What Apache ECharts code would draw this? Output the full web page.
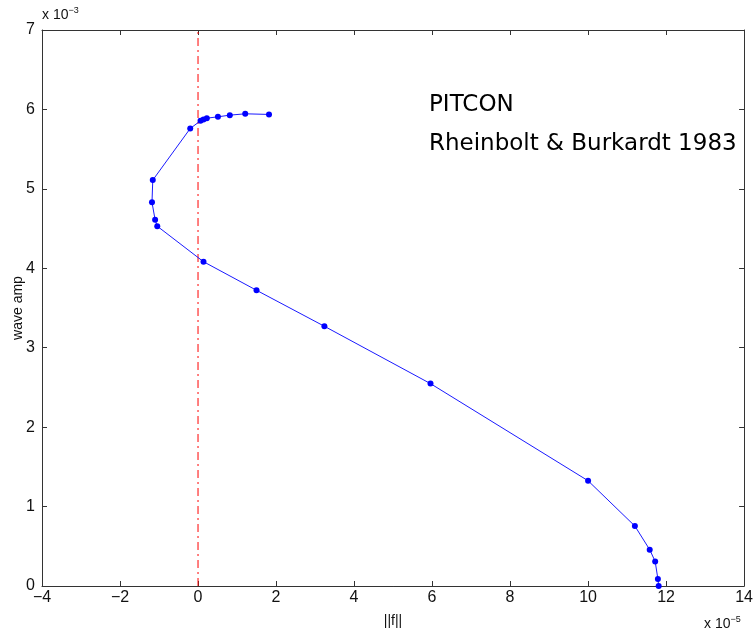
<!DOCTYPE html>
<html>
<head>
<meta charset="utf-8">
<script src="https://cdn.jsdelivr.net/npm/echarts@6/dist/echarts.min.js"></script>
<style>html,body{margin:0;padding:0;background:#fff}#c{width:756px;height:638px}</style>
</head>
<body>
<div id="c"></div>
<script>
// ||f|| values (x 1e-5) and wave amp values (x 1e-3)
const normF = [11.81, 11.79, 11.72, 11.58, 11.2, 10.0, 5.96, 3.24, 1.50, 0.14, -1.045, -1.10, -1.18, -1.16, -0.2, 0.064, 0.14, 0.225, 0.51, 0.815, 1.21, 1.82];
const waveAmp = [0.0, 0.088, 0.31, 0.457, 0.755, 1.325, 2.548, 3.27, 3.723, 4.083, 4.53, 4.61, 4.83, 5.11, 5.76, 5.857, 5.874, 5.89, 5.907, 5.928, 5.945, 5.937];
const zeroLineX = [0, 0];
const zeroLineY = [0, 7];
const xTicks = {min: -4, max: 14, interval: 2};
const yTicks = {min: 0, max: 7, interval: 1};
const annotations = ['PITCON', 'Rheinbolt & Burkardt 1983'];

const chart = echarts.init(document.getElementById('c'), null, {renderer: 'canvas'});
const axisCol = '#333';
const labelFont = {fontFamily: 'Liberation Sans', fontSize: 16, color: '#111'};
function xa(pos, labels) {
  return {type: 'value', position: pos, min: xTicks.min, max: xTicks.max, interval: xTicks.interval,
    axisLine: {show: true, onZero: false, lineStyle: {color: axisCol, width: 1}},
    axisTick: {show: true, inside: true, length: 5, lineStyle: {color: axisCol}},
    axisLabel: Object.assign({show: labels, margin: 4, formatter: v => String(v).replace('-', '\u2212')}, labelFont),
    splitLine: {show: false}};
}
function ya(pos, labels) {
  return {type: 'value', position: pos, min: yTicks.min, max: yTicks.max, interval: yTicks.interval,
    axisLine: {show: true, onZero: false, lineStyle: {color: axisCol, width: 1}},
    axisTick: {show: true, inside: true, length: 5, lineStyle: {color: axisCol}},
    axisLabel: Object.assign({show: labels, margin: 7}, labelFont),
    splitLine: {show: false}};
}
const option = {
  animation: false,
  backgroundColor: '#fff',
  grid: {left: 42, right: 10, top: 30, bottom: 52, containLabel: false},
  xAxis: [xa('bottom', true), xa('top', false)],
  yAxis: [ya('left', true), ya('right', false)],
  series: [
    {type: 'line', data: zeroLineX.map((v, i) => [v, zeroLineY[i]]), symbol: 'none',
      lineStyle: {color: '#ff0000', width: 1, type: [8, 4, 2, 4]}, z: 2},
    {type: 'line', data: normF.map((v, i) => [v, waveAmp[i]]), symbol: 'circle', symbolSize: 6,
      showSymbol: true, clip: false,
      itemStyle: {color: '#0000ff'}, lineStyle: {color: '#1a1aff', width: 1}, z: 3}
  ],
  graphic: [
    {type: 'text', left: 429, top: 94, style: {text: annotations[0], font: '23px "DejaVu Sans"', fill: '#000'}},
    {type: 'text', left: 429, top: 133, style: {text: annotations[1], font: '23px "DejaVu Sans"', fill: '#000'}},
    {type: 'text', left: 42, top: 6, style: {rich: {a: {fontFamily: 'Liberation Sans', fontSize: 14, fill: '#111'}, b: {fontFamily: 'Liberation Sans', fontSize: 9, fill: '#111', padding: [0,0,10,0]}}, text: '{a|x 10}{b|−3}'}},
    {type: 'text', left: 704, top: 615, style: {rich: {a: {fontFamily: 'Liberation Sans', fontSize: 14, fill: '#111'}, b: {fontFamily: 'Liberation Sans', fontSize: 9, fill: '#111', padding: [0,0,10,0]}}, text: '{a|x 10}{b|−5}'}},
    {type: 'text', x: 393, y: 621, style: {text: '||f||', font: '14px "Liberation Sans"', fill: '#111', align: 'center', verticalAlign: 'middle'}},
    {type: 'text', x: 18, y: 308, rotation: Math.PI / 2, style: {text: 'wave amp', font: '14px "Liberation Sans"', fill: '#111', align: 'center', verticalAlign: 'middle'}}
  ]
};
chart.setOption(option);
</script>
</body>
</html>
